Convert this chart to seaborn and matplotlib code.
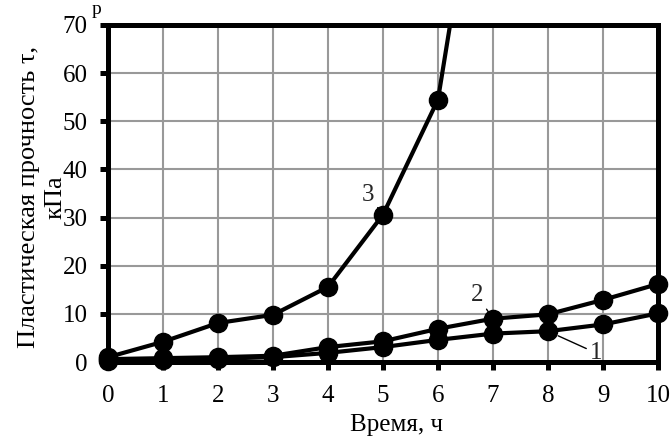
import numpy as np
import pandas as pd
import matplotlib
matplotlib.use('Agg')
import matplotlib.pyplot as plt
import seaborn as sns

# data
hours = [0, 1, 2, 3, 4, 5, 6, 7, 8, 9, 10]
curve1 = [0.3, 0.5, 0.7, 1.0, 1.9, 3.1, 4.6, 5.9, 6.4, 7.8, 10.1]
curve2 = [0.6, 0.8, 1.0, 1.3, 3.1, 4.3, 6.9, 9.0, 9.9, 12.9, 16.2]
hours3 = [0, 1, 2, 3, 4, 5, 6, 7]
curve3 = [1.0, 4.2, 8.1, 9.8, 15.6, 30.6, 54.5, 125.0]

df = pd.concat([
    pd.DataFrame({'t': hours, 'tau': curve1, 'curve': '1'}),
    pd.DataFrame({'t': hours, 'tau': curve2, 'curve': '2'}),
    pd.DataFrame({'t': hours3, 'tau': curve3, 'curve': '3'}),
])

sns.set_theme(style="white")
plt.rcParams['font.family'] = ['Liberation Serif', 'DejaVu Serif']

fig = plt.figure(figsize=(6.72, 4.37), dpi=100)
ax = fig.add_axes([0.1607, 0.1716, 0.8184, 0.7712])

sns.lineplot(data=df, x='t', y='tau', units='curve', estimator=None,
             color='black', linewidth=3, ax=ax, legend=False)
# markers drawn unclipped, only the ones that are inside the 0-70 range
vis = df[df['tau'] <= 70]
sns.scatterplot(data=vis, x='t', y='tau', color='black', s=170,
                edgecolor='black', ax=ax, legend=False, clip_on=False, zorder=5)

ax.set_xlim(0, 10)
ax.set_ylim(0, 70)
ax.set_xticks(range(0, 11))
ax.set_yticks(range(0, 71, 10))
ax.grid(True, color='#999999', linewidth=1.5)
ax.set_axisbelow(True)
for s in ax.spines.values():
    s.set_color('black')
    s.set_linewidth(3.6)
ax.tick_params(axis='both', which='major', labelsize=18, colors='black',
               direction='out', length=5.5, width=3.6,
               bottom=True, left=True)
ax.tick_params(axis='x', pad=11)
ax.tick_params(axis='y', pad=9)

ax.set_xlabel('Время, ч', fontsize=18, color='black')
ax.set_ylabel('Пластическая прочность τ,\nкПа', fontsize=19, color='black',
              linespacing=1.25)
ax.xaxis.set_label_coords(0.525, -0.155)
ax.yaxis.set_label_coords(-0.076, 0.49)

ax.annotate('3', xy=(5, 30.6), xytext=(4.73, 34.7), fontsize=18,
            ha='center', va='center',
            arrowprops=dict(arrowstyle='-', color='black', lw=1, shrinkA=0, shrinkB=6))
ax.annotate('2', xy=(7, 9.0), xytext=(6.71, 13.9), fontsize=18,
            ha='center', va='center',
            arrowprops=dict(arrowstyle='-', color='black', lw=1, shrinkA=0, shrinkB=6))
ax.annotate('1', xy=(8, 6.4), xytext=(8.87, 1.9), fontsize=18,
            ha='center', va='center',
            arrowprops=dict(arrowstyle='-', color='black', lw=1, shrinkA=0, shrinkB=8))

fig.text(97 / 672, 0.998, 'р', fontsize=14, ha='center', va='top', color='black')

fig.savefig('out.png', dpi=100)
